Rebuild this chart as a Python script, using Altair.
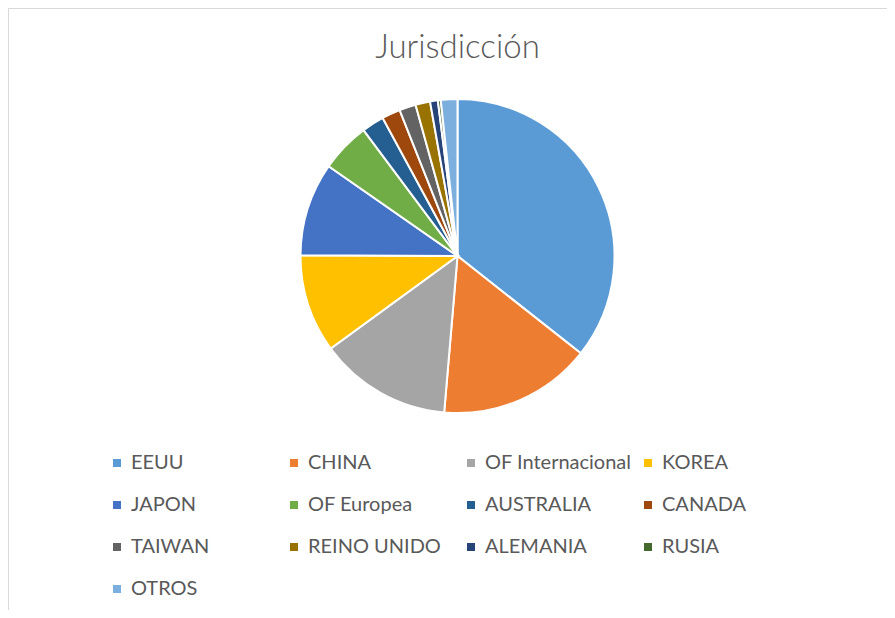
import altair as alt
import pandas as pd

categories = ["EEUU", "CHINA", "OF Internacional", "KOREA", "JAPON", "OF Europea",
              "AUSTRALIA", "CANADA", "TAIWAN", "REINO UNIDO", "ALEMANIA", "RUSIA", "OTROS"]
values = [35.6, 15.7, 13.6, 10.1, 9.6, 5.1, 2.3, 1.9, 1.7, 1.5, 0.8, 0.3, 1.7]
colors = ["#5B9BD5", "#ED7D31", "#A5A5A5", "#FFC000", "#4472C4", "#70AD47",
          "#255E91", "#9E480E", "#636363", "#997300", "#264478", "#43682B", "#7CAFDD"]
title_text = "Jurisdicción"

W, H = 879, 602
df = pd.DataFrame({"cat": categories, "val": values, "ord": list(range(len(categories)))})

pie = alt.Chart(df).mark_arc(outerRadius=157, stroke="white", strokeWidth=2).encode(
    theta=alt.Theta("val:Q", stack=True),
    order=alt.Order("ord:Q"),
    color=alt.Color(
        "cat:N",
        scale=alt.Scale(domain=categories, range=colors),
        legend=alt.Legend(
            title=None, orient="none", legendX=99, legendY=445, columns=4,
            direction="horizontal",
            gridAlign="all", columnPadding=6, rowPadding=22,
            symbolType="square", symbolSize=64, symbolStrokeWidth=0,
            symbolOffset=0, labelOffset=4,
            labelFont="Lato", labelFontSize=20, labelColor="#595959",
            labelLimit=300,
        ),
    ),
    x=alt.value(449.5),
    y=alt.value(248),
)

title = alt.Chart(pd.DataFrame({"t": [title_text]})).mark_text(
    font="Lato", fontSize=33, fontWeight=300, color="#595959",
    align="center", baseline="alphabetic",
).encode(text="t:N", x=alt.value(449.5), y=alt.value(50))

frame_df = pd.DataFrame({"k": [0]})
left_rule = alt.Chart(frame_df).mark_rule(color="#D9D9D9", strokeWidth=1).encode(
    x=alt.value(0.5), y=alt.value(0), y2=alt.value(H))
top_rule = alt.Chart(frame_df).mark_rule(color="#D9D9D9", strokeWidth=1).encode(
    y=alt.value(0.5), x=alt.value(0), x2=alt.value(W))

chart = alt.layer(left_rule, top_rule, title, pie).properties(
    width=W, height=H,
    autosize=alt.AutoSizeParams(type="none"),
    padding=0,
    background="white",
).configure_view(stroke=None)

chart.save("out.html", embed_options={"renderer": "svg", "actions": False})
